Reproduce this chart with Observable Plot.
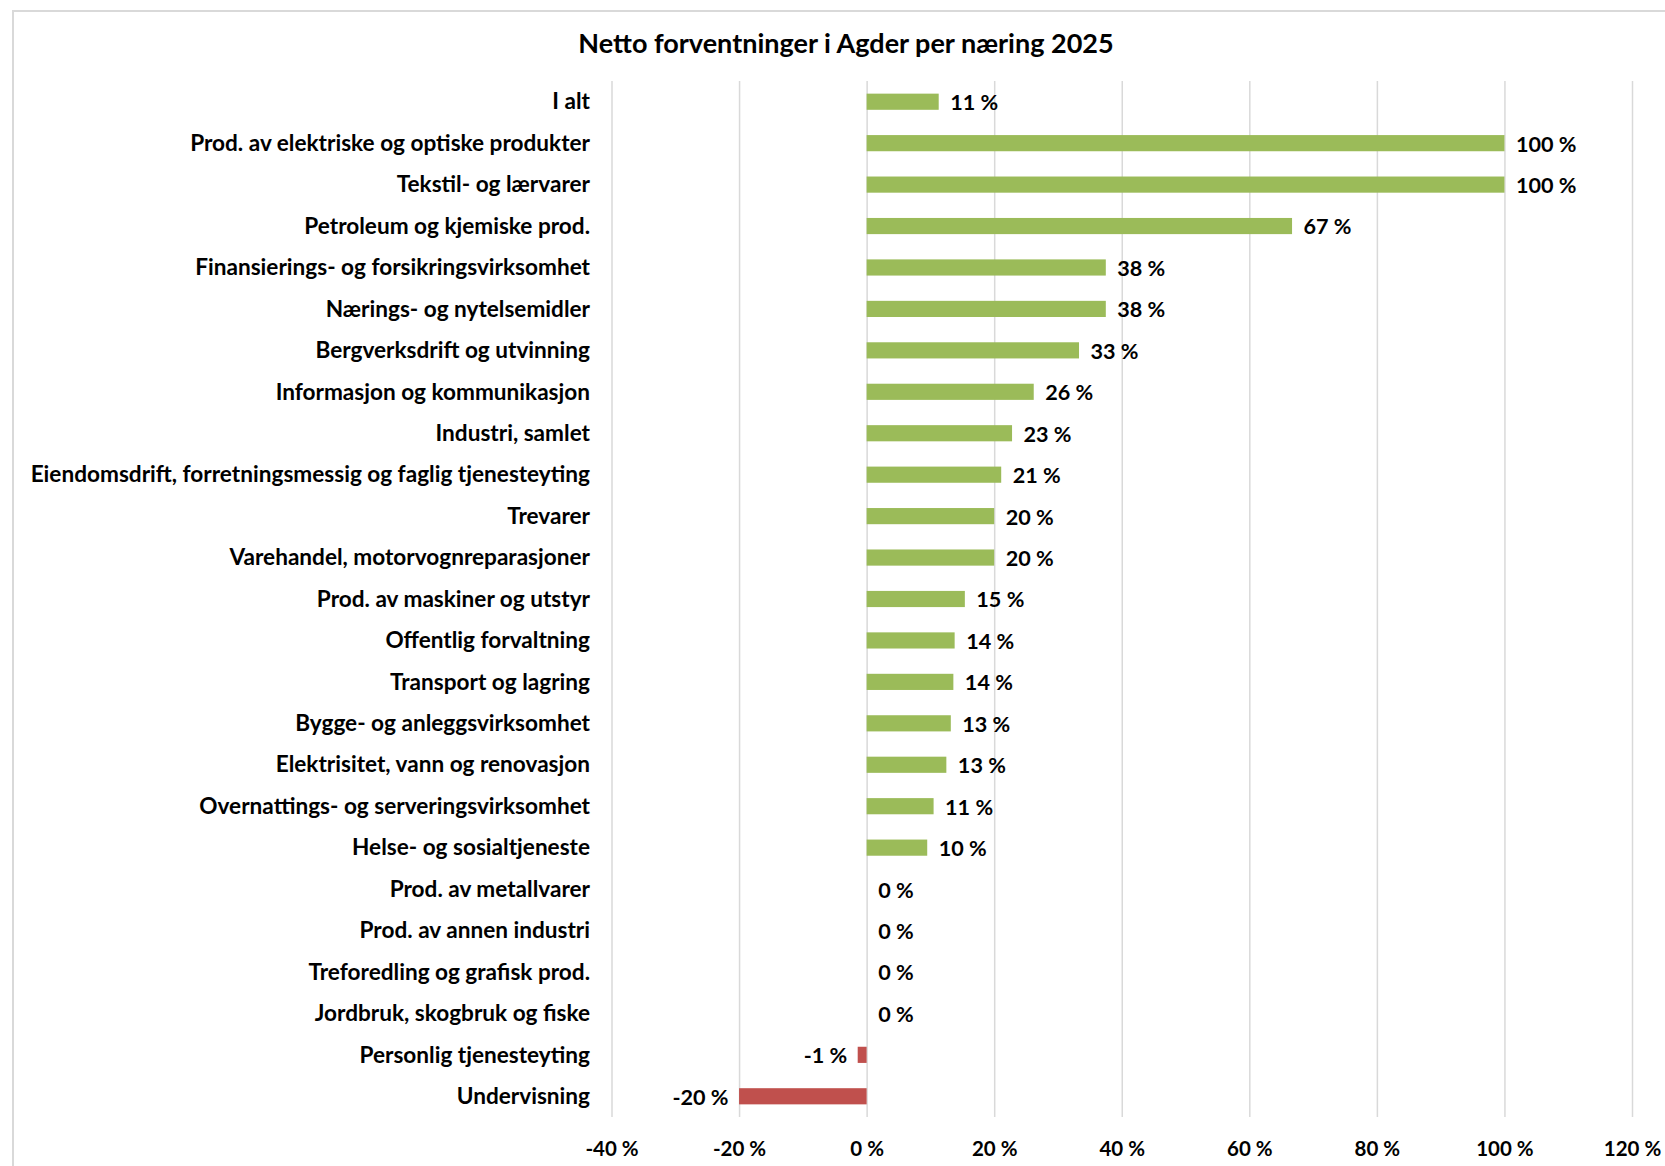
<!DOCTYPE html>
<html>
<head>
<meta charset="utf-8">
<script src="https://cdn.jsdelivr.net/npm/d3@7"></script>
<script src="https://cdn.jsdelivr.net/npm/@observablehq/plot@0.6"></script>
<style>
  html, body { margin: 0; padding: 0; background: #fff; overflow: hidden; }
  #wrap { position: relative; width: 1665px; height: 1166px; overflow: hidden; background: #fff; }
  #border { position: absolute; left: 12px; top: 10px; width: 1700px; height: 1200px; border: 2px solid #d9d9d9; box-sizing: border-box; pointer-events: none; }
  #title { height: 62px; box-sizing: border-box; padding-top: 29px; line-height: 27px; font-family: Lato, sans-serif; font-weight: bold; font-size: 27px; text-align: center; color: #000; padding-left: 27px; white-space: nowrap; }
  #chart svg { display: block; }
</style>
</head>
<body>
<div id="wrap">
  <div id="title">Netto forventninger i Agder per næring 2025</div>
  <div id="chart"></div>
  <div id="border"></div>
</div>
<script>
const categories = [
  "I alt",
  "Prod. av elektriske og optiske produkter",
  "Tekstil- og lærvarer",
  "Petroleum og kjemiske prod.",
  "Finansierings- og forsikringsvirksomhet",
  "Nærings- og nytelsemidler",
  "Bergverksdrift og utvinning",
  "Informasjon og kommunikasjon",
  "Industri, samlet",
  "Eiendomsdrift, forretningsmessig og faglig tjenesteyting",
  "Trevarer",
  "Varehandel, motorvognreparasjoner",
  "Prod. av maskiner og utstyr",
  "Offentlig forvaltning",
  "Transport og lagring",
  "Bygge- og anleggsvirksomhet",
  "Elektrisitet, vann og renovasjon",
  "Overnattings- og serveringsvirksomhet",
  "Helse- og sosialtjeneste",
  "Prod. av metallvarer",
  "Prod. av annen industri",
  "Treforedling og grafisk prod.",
  "Jordbruk, skogbruk og fiske",
  "Personlig tjenesteyting",
  "Undervisning"
];
const values = [11.3, 100, 100, 66.7, 37.5, 37.5, 33.3, 26.2, 22.8, 21.1, 20, 20, 15.4, 13.8, 13.6, 13.2, 12.5, 10.5, 9.5, 0, 0, 0, 0, -1.4, -20];
const xTicks = [-40, -20, 0, 20, 40, 60, 80, 100, 120];

const data = categories.map((c, i) => ({category: c, value: values[i]}));
const pct = d => `${Math.round(d)} %`;

const chart = Plot.plot({
  width: 1665,
  height: 1104,
  marginLeft: 611.5,
  marginRight: 33,
  marginTop: 19,
  marginBottom: 49,
  style: {fontFamily: "Lato, sans-serif", fontWeight: "bold", fontSize: "20px", color: "#000", background: "#fff"},
  x: {domain: [-40, 120]},
  y: {domain: categories, paddingInner: 0.61, paddingOuter: 0.305, round: false},
  color: {type: "identity"},
  marks: [
    Plot.gridX(xTicks, {stroke: "#d9d9d9", strokeOpacity: 1, strokeWidth: 1.5}),
    Plot.barX(data, {x: "value", y: "category", fill: d => d.value < 0 ? "#C0504D" : "#9BBB59"}),
    Plot.text(data.filter(d => d.value >= 0), {
      x: "value", y: "category",
      text: d => pct(d.value),
      textAnchor: "start",
      dx: 11,
      dy: 1,
      fill: "#000",
      fontWeight: "bold",
      fontSize: 21.6
    }),
    Plot.text(data.filter(d => d.value < 0), {
      x: "value", y: "category",
      text: d => pct(d.value),
      textAnchor: "end",
      dx: -11,
      dy: 1,
      fill: "#000",
      fontWeight: "bold",
      fontSize: 21.6
    }),
    Plot.axisX(xTicks, {tickSize: 0, tickPadding: 24, tickFormat: d => `${d} %`, label: null, fontSize: 20.5}),
    Plot.axisY({tickSize: 0, tickPadding: 22, label: null, fontSize: 22.6})
  ]
});
document.getElementById("chart").appendChild(chart);
</script>
</body>
</html>
